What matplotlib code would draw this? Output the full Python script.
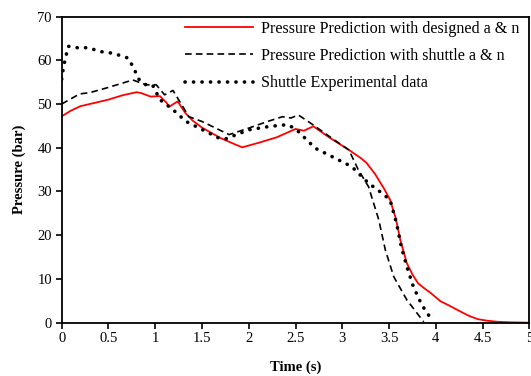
import matplotlib
matplotlib.use("Agg")
import matplotlib.pyplot as plt

# Pressure prediction with designed a & n (red solid)
t_design = [0.0, 0.1, 0.2, 0.3, 0.5, 0.65, 0.8, 0.85, 0.95, 1.05, 1.12, 1.15, 1.24, 1.32, 1.4, 1.5, 1.7, 1.85, 1.93,
            2.1, 2.3, 2.5, 2.59, 2.69, 2.85, 3.07, 3.2, 3.26, 3.35, 3.45, 3.51, 3.57, 3.62, 3.69, 3.75, 3.81,
            3.88, 3.95, 4.05, 4.13, 4.24, 4.35, 4.45, 4.55, 4.66, 4.8, 5.0]
p_design = [47.2, 48.5, 49.5, 50.0, 51.0, 52.0, 52.7, 52.5, 51.7, 51.8, 50.3, 49.4, 50.6, 48.0, 46.2, 44.6, 42.2, 40.8,
            40.1, 41.1, 42.4, 44.3, 43.9, 44.9, 42.5, 39.5, 37.6, 36.5, 34.0, 30.5, 28.1, 24.0, 18.9, 13.6, 11.0,
            9.0, 7.8, 6.7, 4.9, 4.05, 2.8, 1.6, 0.8, 0.45, 0.2, 0.08, 0.0]

# Pressure prediction with shuttle a & n (black dashed)
t_shuttle = [0.0, 0.19, 0.3, 0.5, 0.76, 0.9, 1.01, 1.1, 1.19, 1.36, 1.5, 1.79, 2.0, 2.2, 2.36, 2.45, 2.53,
             2.69, 2.9, 3.07, 3.17, 3.28, 3.39, 3.46, 3.55, 3.69, 3.87]
p_shuttle = [50.0, 52.3, 52.6, 53.8, 55.5, 54.4, 54.4, 52.1, 53.1, 47.1, 46.0, 43.0, 44.5, 46.0, 47.1, 46.8, 47.5,
             45.2, 42.0, 39.5, 35.0, 31.1, 23.5, 16.6, 10.5, 5.2, 0.2]

# Shuttle experimental data (black dotted)
t_exp = [0.0, 0.02, 0.07, 0.19, 0.28, 0.41, 0.55, 0.71, 0.76, 0.83, 0.9, 0.97, 1.05, 1.19, 1.33, 1.47, 1.68,
         1.75, 2.0, 2.2, 2.36, 2.43, 2.53, 2.71, 2.85, 3.1, 3.28, 3.4, 3.51, 3.58, 3.63, 3.69, 3.76, 3.85, 3.97]
p_exp = [55.7, 58.6, 63.2, 62.8, 62.9, 62.0, 61.6, 60.5, 58.6, 55.5, 54.4, 54.4, 51.0, 48.7, 46.0, 44.5, 42.2,
         42.0, 44.1, 44.8, 45.2, 45.2, 43.7, 39.9, 38.4, 35.7, 31.9, 30.0, 28.1, 22.7, 17.4, 12.8, 8.2, 4.05, 0.2]

labels = ["Pressure Prediction with designed a & n",
          "Pressure Prediction with shuttle a & n",
          "Shuttle Experimental data"]
x_ticks = [0, 0.5, 1, 1.5, 2, 2.5, 3, 3.5, 4, 4.5, 5]
x_ticklabels = ["0", "0.5", "1", "1.5", "2", "2.5", "3", "3.5", "4", "4.5", "5"]
y_ticks = [0, 10, 20, 30, 40, 50, 60, 70]

plt.rcParams['font.family'] = ['Liberation Serif', 'DejaVu Serif']

fig = plt.figure(figsize=(5.31, 3.76), dpi=100)
ax = fig.add_axes([0.1162, 0.1418, 0.8808, 0.8142])

ax.plot(t_design, p_design, color='#ff0000', lw=1.3, label=labels[0])
ax.plot(t_shuttle, p_shuttle, color='black', lw=1.2, linestyle=(0, (4, 2.5)), label=labels[1])
ax.plot(t_exp, p_exp, color='black', lw=2.6, linestyle=(0, (0.05, 2.3)),
        dash_capstyle='round', label=labels[2])

ax.set_xlim(0, 5)
ax.set_ylim(0, 70)
ax.set_xticks(x_ticks)
ax.set_xticklabels(x_ticklabels)
ax.set_yticks(y_ticks)
ax.tick_params(direction='out', length=4, width=1.2, labelsize=10.5, colors='black', pad=3)
for s in ax.spines.values():
    s.set_linewidth(1.3)
    s.set_color('black')

ax.set_xlabel("Time (s)", fontsize=10.5, fontweight='bold', labelpad=11)
ax.set_ylabel("Pressure (bar)", fontsize=10.5, fontweight='bold', labelpad=8)

leg = ax.legend(loc='upper right', bbox_to_anchor=(1.0, 1.018), frameon=False, fontsize=11.6,
                handlelength=4.25, handletextpad=0.5, labelspacing=0.7, borderaxespad=0.2)

fig.savefig("out.png", dpi=100)
